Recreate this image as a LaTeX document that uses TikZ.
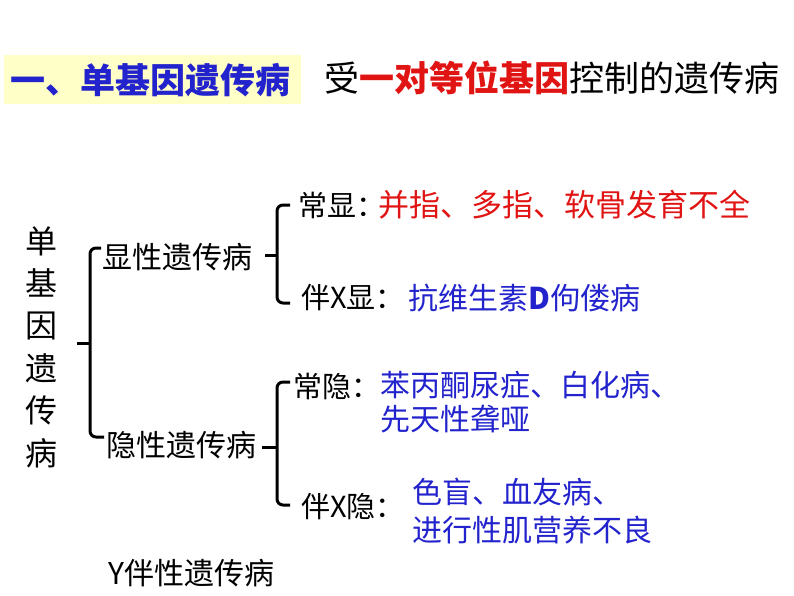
\documentclass[tikz,border=0pt]{standalone}
\usepackage{fontspec}
\setmainfont{Noto Sans CJK SC}
\usetikzlibrary{positioning,calc}
\definecolor{tblue}{RGB}{35,35,205}
\definecolor{tred}{RGB}{225,20,20}
\definecolor{tyellow}{RGB}{255,255,200}

\begin{document}
\begin{tikzpicture}[x=1pt, y=-1pt,
    txt/.style={anchor=west, inner sep=0pt, font=\fontsize{29}{34}\selectfont},
    big/.style={txt, font=\fontsize{35}{40}\selectfont},
    rd/.style={txt, text=tred, font=\fontsize{31}{34}\selectfont},
    bl/.style={txt, text=tblue, align=left, font=\fontsize{30}{36}\selectfont},
    brc/.style={line width=3pt, rounded corners=6pt}
]
\useasboundingbox (0,0) rectangle (794,596);

% title line
\fill[tyellow] (4,55) rectangle (301,104);
\node[big, text=tblue, font=\fontsize{35}{40}\selectfont\bfseries] (title) at (10,80) {一、单基因遗传病};
\node[big] (defn) at (324,78) {受\textcolor{tred}{\bfseries 一对等位基因}控制的遗传病};

% tree
\node[txt, anchor=center, align=center, font=\fontsize{32}{42.4}\selectfont] (root) at (41,347) {单\\基\\因\\遗\\传\\病};
\node[txt, font=\fontsize{30}{34}\selectfont] (xian) at (102,257) {显性遗传病};
\node[txt, font=\fontsize{30}{34}\selectfont] (yin) at (106,445) {隐性遗传病};
\node[txt, font=\fontsize{30}{34}\selectfont] (ylink) at (108,573) {Y伴性遗传病};

\node[txt] (cx) at (298,205) {常显：};
\node[rd] (cxd) at (378,205) {并指、多指、软骨发育不全};
\node[txt] (bx) at (301,298) {伴X显：};
\node[bl] (bxd) at (408,298) {抗维生素\textbf{D}佝偻病};

\node[txt] (cy) at (293,386) {常隐：};
\node[bl, font=\fontsize{30}{34}\selectfont] (cyd) at (380,402) {苯丙酮尿症、白化病、\\先天性聋哑};
\node[txt] (by) at (301,507) {伴X隐：};
\node[bl, font=\fontsize{30}{38}\selectfont] (byd) at (412,511) {色盲、血友病、\\进行性肌营养不良};

% braces
\coordinate (b1) at (90,343);
\coordinate (t1) at (77,343);
\draw[brc] ($(xian.west)+(-1,-9)$) -| (b1) |- ($(yin.west)+(-2,-8)$);
\draw[brc] (b1) -- (t1);

\coordinate (b2) at (277,255);
\coordinate (t2) at (265,255);
\draw[brc] ($(cx.west)+(-8,0)$) -| (b2) |- ($(bx.west)+(-11,5)$);
\draw[brc] (b2) -- (t2);

\coordinate (b3) at (277,447);
\coordinate (t3) at (262,447);
\draw[brc] ($(cy.west)+(-3,-4)$) -| (b3) |- ($(by.west)+(-11,-2)$);
\draw[brc] (b3) -- (t3);
\end{tikzpicture}
\end{document}
